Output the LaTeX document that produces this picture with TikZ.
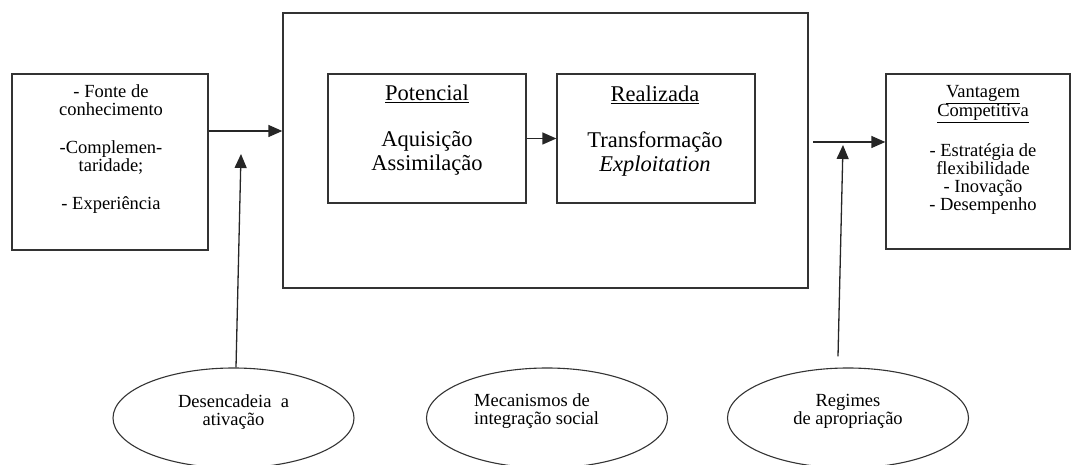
\documentclass[tikz,border=0pt]{standalone}
\usepackage{fontspec}
\setmainfont{Liberation Serif}
\usetikzlibrary{arrows.meta,shapes.geometric}

\begin{document}
\begin{tikzpicture}[x=1pt,y=-1pt,
  caixa/.style={draw=black!80,line width=1.3pt,inner sep=0pt},
  balao/.style={draw=black!80,line width=1.1pt,ellipse,minimum width=241pt,minimum height=100pt,inner sep=0pt},
  texto/.style={align=center,inner sep=0pt,font=\fontsize{18.5}{18}\selectfont},
  textogrande/.style={align=center,inner sep=0pt,font=\fontsize{22.5}{23.5}\selectfont},
  seta/.style={draw=black!85,line width=1.3pt,-{Triangle[length=14pt,width=12pt]}}]

 \useasboundingbox (0,0) rectangle (1072,465);

 % caixas
 \node[caixa,minimum width=196pt,minimum height=176pt] (fonte) at (110,162) {};
 \node[caixa,minimum width=525pt,minimum height=275pt] (absorcao) at (545.5,150.5) {};
 \node[caixa,minimum width=198pt,minimum height=129pt] (potencial) at (427,138.5) {};
 \node[caixa,minimum width=198pt,minimum height=129pt] (realizada) at (656,138.5) {};
 \node[caixa,minimum width=184pt,minimum height=175pt] (vantagem) at (978,161.5) {};

 % textos das caixas
 \node[texto,anchor=north] (fontetxt) at (111,84.5)
   {- Fonte de\\conhecimento\\[20pt]-Complemen-\\taridade;\\[20pt]- Experiência};
 \node[textogrande,anchor=north] (potencialtxt) at (427,84.5)
   {\underline{Potencial}\\[23pt]Aquisição\\Assimilação};
 \node[textogrande,anchor=north] (realizadatxt) at (655,85.5)
   {\underline{Realizada}\\[23pt]Transformação\\\textit{Exploitation}};
 \node[texto,anchor=north] (vantagemtxt) at (983,85)
   {\underline{Vantagem}\\\underline{Competitiva}\\[20pt]- Estratégia de\\flexibilidade\\- Inovação\\- Desempenho};

 % elipses de baixo
 \node[balao] (ativacao) at (233.5,418) {};
 \node[balao] (integracao) at (547,418) {};
 \node[balao] (apropriacao) at (848,418) {};
 \node[texto,anchor=north] (ativacaotxt) at (233.5,394.5) {Desencadeia~~a\\ativação};
 \node[texto,align=left,anchor=north west] (integracaotxt) at (474,393) {Mecanismos de\\integração social};
 \node[texto,anchor=north] (apropriacaotxt) at (848,394) {Regimes\\de apropriação};

 % setas
 \coordinate (gatilho) at (241,154);
 \coordinate (saida) at (813,142);
 \coordinate (regime) at (843,145);
 \draw[seta] (fonte.north east |- 0,131) -- (absorcao.west |- 0,131); % entrada
 \draw[seta] (potencial.east) -- (realizada.west);
 \draw[seta] (saida) -- (vantagem.west |- saida); % saida
 \draw[seta] ([xshift=2.5pt]ativacao.north) -- (gatilho);
 \draw[seta] ([shift={(-10,-11)}]apropriacao.north) -- (regime);

\end{tikzpicture}
\end{document}
